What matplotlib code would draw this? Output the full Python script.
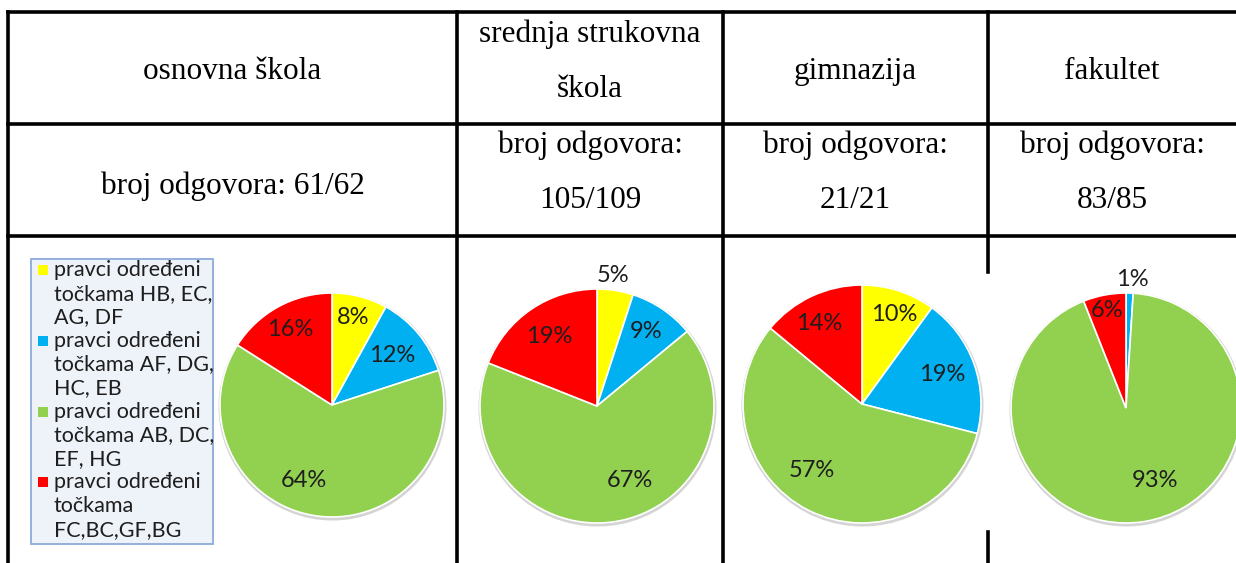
import matplotlib.pyplot as plt
from matplotlib.patches import Circle, Rectangle
import numpy as np

# Data
columns = ['osnovna škola', 'srednja strukovna\nškola', 'gimnazija', 'fakultet']
answers = ['broj odgovora: 61/62', 'broj odgovora:\n105/109', 'broj odgovora:\n21/21', 'broj odgovora:\n83/85']

legend_labels = [
    'pravci određeni\ntočkama HB, EC,\nAG, DF',
    'pravci određeni\ntočkama AF, DG,\nHC, EB',
    'pravci određeni\ntočkama AB, DC,\nEF, HG',
    'pravci određeni\ntočkama\nFC,BC,GF,BG',
]
colors = ['#FFFF00', '#00B0F0', '#92D050', '#FF0000']

osnovna = [8, 12, 64, 16]
srednja = [5, 9, 67, 19]
gimnazija = [10, 19, 57, 14]
fakultet = [0, 1, 93, 6]
shares = [osnovna, srednja, gimnazija, fakultet]

# Layout (pixels, image coords with y going down)
W, H = 1236, 563
col_x = [8, 457, 723, 988]
row_y = [12, 124, 236]
pie_centers = [(332, 405), (597, 406), (862, 404), (1126, 408)]
pie_radius = [112, 117, 119, 115]
# label placement per slice: (fraction of radius, angle shift in degrees)
label_pos = [
    [(0.80, 1), (0.70, 0), (0.72, -13), (0.77, 0)],
    [(1.12, 2), (0.76, 1), (0.70, 15), (0.72, 0)],
    [(0.80, -2), (0.72, 0), (0.70, -10), (0.77, 3)],
    [(0, 0), (1.12, -1), (0.68, 13), (0.86, 0)],
]


def Y(y):
    return H - y


fig = plt.figure(figsize=(W / 100, H / 100), dpi=100)
ax = fig.add_axes([0, 0, 1, 1])

# Table lines
lw = 2.6
ax.plot([col_x[0], W], [Y(row_y[0])] * 2, color='black', lw=lw, solid_capstyle='projecting')
for ry in row_y[1:]:
    ax.plot([col_x[0], W], [Y(ry)] * 2, color='black', lw=lw)
for cx in col_x[:3]:
    ax.plot([cx, cx], [Y(row_y[0]), 0], color='black', lw=lw)
ax.plot([col_x[3], col_x[3]], [Y(row_y[0]), Y(272)], color='black', lw=lw)
ax.plot([col_x[3], col_x[3]], [Y(532), 0], color='black', lw=lw)

# Header and answers text
serif = 'Liberation Serif'
edges = col_x + [W]
for i in range(4):
    xc = (edges[i] + edges[i + 1]) / 2
    for text, single, double in [(columns[i], 79, (42, 97)), (answers[i], 194, (153, 208))]:
        lines = text.split('\n')
        ys = [single] if len(lines) == 1 else double
        for line, yb in zip(lines, ys):
            ax.text(xc, Y(yb), line, ha='center', va='baseline',
                    fontsize=22.5, family=serif, color='black')

# Pies
for k, vals in enumerate(shares):
    cx, cy = pie_centers[k]
    r = pie_radius[k]
    ax.add_patch(Circle((cx + 0.5, Y(cy) - 1.5), r + 2, facecolor='#d4d4d4',
                        edgecolor='none', zorder=1))
    wedges, _ = ax.pie(vals, colors=colors, startangle=90, counterclock=False,
                       center=(cx, Y(cy)), radius=r,
                       wedgeprops=dict(edgecolor='white', linewidth=1.2))
    for w in wedges:
        w.set_zorder(2)
    for j, w in enumerate(wedges):
        if vals[j] == 0:
            continue
        frac, shift = label_pos[k][j]
        mid = np.deg2rad((w.theta1 + w.theta2) / 2 + shift)
        ax.text(cx + frac * r * np.cos(mid), Y(cy) + frac * r * np.sin(mid),
                f'{vals[j]}%', ha='center', va='center', fontsize=17,
                family='Lato', color='#1e1e1e', zorder=3)

# Legend box
ax.add_patch(Rectangle((31, Y(544)), 213 - 31, 544 - 259, facecolor='#EEF2F9',
                       edgecolor='#8EAADB', linewidth=1.3, zorder=2))
line_y = 270
for j, lab in enumerate(legend_labels):
    lines = lab.split('\n')
    ax.add_patch(Rectangle((38, Y(line_y + 5)), 10, 10, facecolor=colors[j],
                           edgecolor='none', zorder=3))
    for line in lines:
        ax.text(54, Y(line_y), line, ha='left', va='center', fontsize=15.5,
                family='Lato', color='#1e1e1e', zorder=3)
        line_y += 23.6

ax.set_xlim(0, W)
ax.set_ylim(0, H)
ax.set_aspect('auto')
ax.axis('off')

fig.savefig('out.png', dpi=100, facecolor='white')
